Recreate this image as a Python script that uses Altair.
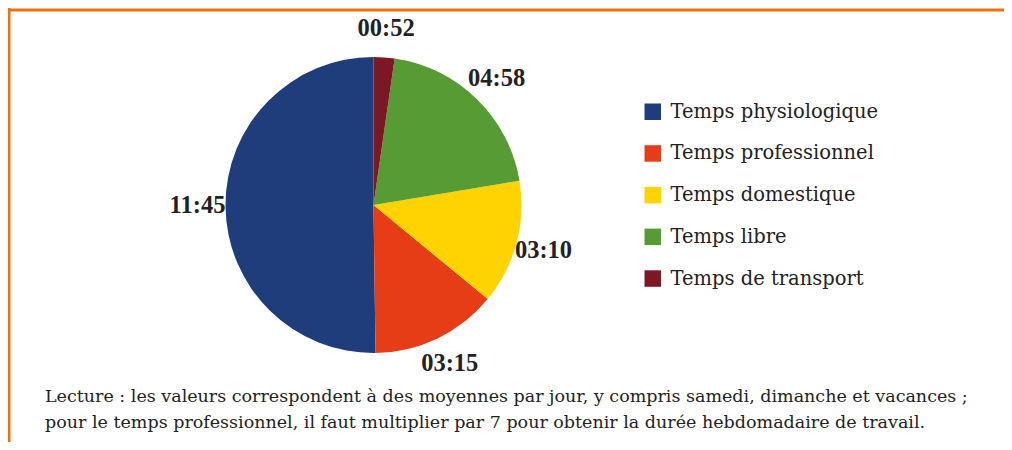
import altair as alt
import pandas as pd

categories = ["Temps physiologique", "Temps professionnel", "Temps domestique",
              "Temps libre", "Temps de transport"]
values = [11.45, 3.15, 3.10, 4.58, 0.52]
labels = ["11:45", "03:15", "03:10", "04:58", "00:52"]
slice_order = [5, 4, 3, 2, 1]
colors = ["#1f3c7b", "#e63d17", "#fed300", "#569b34", "#7c1724"]
caption = [
    "Lecture : les valeurs correspondent à des moyennes par jour, y compris samedi, dimanche et vacances ;",
    "pour le temps professionnel, il faut multiplier par 7 pour obtenir la durée hebdomadaire de travail.",
]

df = pd.DataFrame({"cat": categories, "val": values, "lab": labels, "ord": slice_order})

W, H = 996, 434
CX, CY = 365.5, 197
TEXT = "#222222"
FONT = "DejaVu Serif"

base = alt.Chart(df).encode(
    theta=alt.Theta("val:Q", stack=True),
    order=alt.Order("ord:Q"),
)

pie = base.mark_arc(radius=148).encode(
    x=alt.value(CX), y=alt.value(CY),
    color=alt.Color(
        "cat:N",
        scale=alt.Scale(domain=categories, range=colors),
        legend=alt.Legend(
            title=None, orient="none", legendX=635, legendY=94,
            symbolType="square", symbolSize=272, symbolStrokeWidth=0,
            labelFont=FONT, labelFontSize=19.5, labelColor=TEXT,
            labelOffset=8, rowPadding=20.7, padding=0, labelLimit=400,
        ),
    ),
)

pie_labels = base.mark_text(
    radius=176, font="Liberation Serif", fontWeight="bold", fontSize=24.5,
    color=TEXT, align="center", baseline="middle",
).encode(x=alt.value(CX), y=alt.value(CY), text="lab:N")

one = pd.DataFrame({"a": [0]})
frame_top = alt.Chart(one).mark_rule(color="#f07010", strokeWidth=3).encode(
    x=alt.value(0), x2=alt.value(W), y=alt.value(2))
frame_left = alt.Chart(one).mark_rule(color="#f07010", strokeWidth=3).encode(
    x=alt.value(1), y=alt.value(0), y2=alt.value(H))

cap = alt.Chart(one).mark_text(
    align="left", baseline="alphabetic", lineHeight=26,
    font=FONT, fontSize=17.5, color=TEXT,
).encode(x=alt.value(37), y=alt.value(394), text=alt.value(caption))

chart = alt.layer(frame_top, frame_left, pie, pie_labels, cap).properties(
    width=W, height=H, autosize=alt.AutoSizeParams(type="none"), padding=0,
).configure_view(stroke=None)

chart.save("out.html", embed_options={"renderer": "svg", "actions": False})
